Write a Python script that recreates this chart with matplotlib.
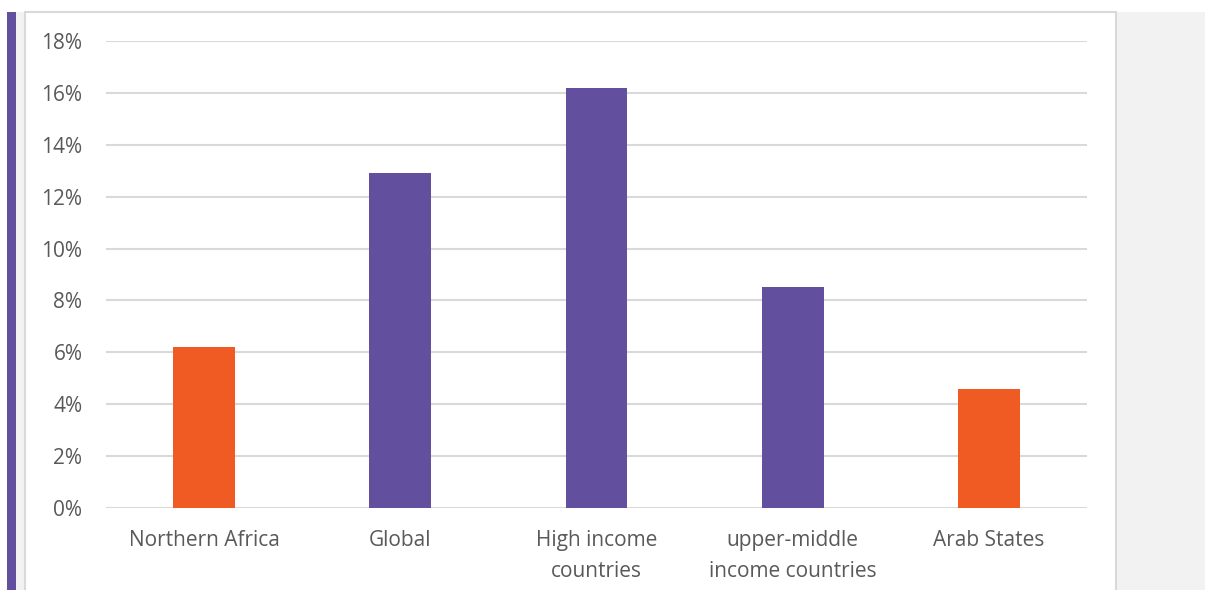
import matplotlib.pyplot as plt
from matplotlib.patches import Rectangle

categories = ['Northern Africa', 'Global', 'High income\ncountries',
              'upper-middle\nincome countries', 'Arab States']
values = [6.2, 12.9, 16.2, 8.5, 4.6]
colors = ['#F05A23', '#62509F', '#62509F', '#62509F', '#F05A23']
yticks = [0, 2, 4, 6, 8, 10, 12, 14, 16, 18]

W, H = 1205, 590
fig = plt.figure(figsize=(W / 100, H / 100), dpi=100)
fig.patch.set_facecolor('white')

def px(x0, y0, x1, y1, **kw):
    # rectangle from pixel coords (top-left origin)
    r = Rectangle((x0 / W, 1 - y1 / H), (x1 - x0) / W, (y1 - y0) / H,
                  transform=fig.transFigure, zorder=-5, **kw)
    fig.patches.append(r)

px(16, 12, 1205, 600, facecolor='#F2F2F2', edgecolor='none')
px(25, 12, 1116, 600, facecolor='white', edgecolor='#D9D9D9', linewidth=1.5)
px(7, 12, 16, 600, facecolor='#62509F', edgecolor='none')

ax = fig.add_axes([106 / W, (H - 508) / H, (1087 - 106) / W, 467 / H])
ax.set_zorder(5)
ax.set_facecolor('none')
x = range(len(categories))
ax.bar(x, values, width=0.316, color=colors, zorder=3)

ax.set_xlim(-0.5, len(categories) - 0.5)
ax.set_ylim(0, 18)
ax.set_yticks(yticks)
ax.set_yticklabels([f'{v}%' for v in yticks])
ax.set_xticks(list(x))
ax.set_xticklabels(categories, linespacing=1.58)

for s in ax.spines.values():
    s.set_visible(False)
ax.grid(axis='y', color='#D9D9D9', linewidth=1.5, zorder=0)
ax.tick_params(axis='both', length=0, labelsize=15, colors='#595959')
ax.tick_params(axis='y', pad=17)
ax.tick_params(axis='x', pad=16)
for lab in ax.get_xticklabels() + ax.get_yticklabels():
    lab.set_fontfamily('Open Sans')

fig.savefig('out.png', dpi=100)
